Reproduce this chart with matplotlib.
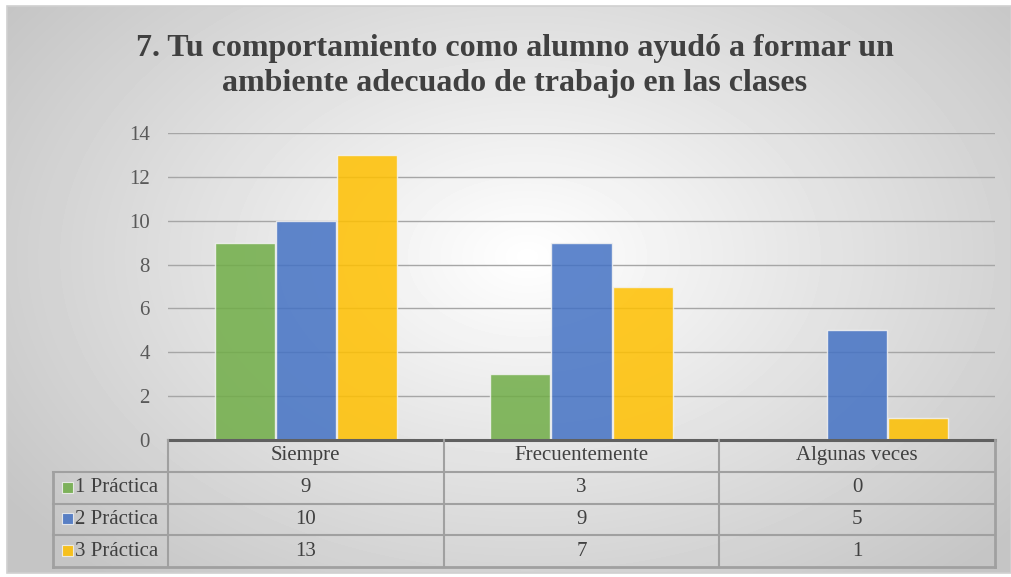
import numpy as np
import matplotlib.pyplot as plt
from matplotlib.patches import Rectangle

# Data
categories = ['Siempre', 'Frecuentemente', 'Algunas veces']
series_names = ['1 Práctica', '2 Práctica', '3 Práctica']
practica_1 = [9, 3, 0]
practica_2 = [10, 9, 5]
practica_3 = [13, 7, 1]
y_ticks = [0, 2, 4, 6, 8, 10, 12, 14]
title = '7. Tu comportamiento como alumno ayudó a formar un\nambiente adecuado de trabajo en las clases'

series = [practica_1, practica_2, practica_3]
colors = ['#70AD47', '#4472C4', '#FFC000']
FONT = ['Liberation Serif', 'DejaVu Serif']

plt.rcParams['font.family'] = FONT

W, H = 1011, 577
fig = plt.figure(figsize=(W / 100, H / 100), dpi=100)


def box(x0, y0, x1, y1):
    # pixel box (top-left origin) -> figure rect
    return [x0 / W, 1 - y1 / H, (x1 - x0) / W, (y1 - y0) / H]


# radial gray background like the Excel chart area
bg = fig.add_axes(box(7, 6, 1011, 573))
yy, xx = np.mgrid[0:567, 0:1004]
r = np.sqrt(((xx - 520) / 640) ** 2 + ((yy - 250) / 430) ** 2)
shade = 1 - 0.23 * np.clip(r, 0, 1)
bg.imshow(shade, cmap='gray', vmin=0, vmax=1, aspect='auto', interpolation='bilinear')
bg.set_axis_off()
fig.patches.append(Rectangle((7 / W, 1 - 573 / H), 1004 / W, 567 / H, transform=fig.transFigure,
                             fill=False, edgecolor='#d0d0d0', lw=1.2))

# Title
fig.text(515 / W, 1 - 66 / H, title, ha='center', va='center', fontsize=23, fontweight='bold',
         color='#404040', linespacing=1.3, family=FONT)

# Main bar axes
ax = fig.add_axes(box(168, 133, 995, 440))
ax.set_facecolor('none')
x = np.arange(len(categories))
width = 0.218
offsets = [-0.222, 0, 0.222]
for vals, off, c in zip(series, offsets, colors):
    ax.bar(x + off, vals, width, color=c, alpha=0.85, edgecolor='#f2f2f2', linewidth=1, zorder=3)

ax.set_xlim(-0.5, 2.5)
ax.set_ylim(0, 14)
ax.set_yticks(y_ticks)
ax.set_yticklabels([str(t) for t in y_ticks], family=FONT)
ax.set_xticks([])
ax.yaxis.grid(True, color='#a6a6a6', linewidth=1, zorder=0)
ax.set_axisbelow(True)
for s in ax.spines.values():
    s.set_visible(False)
ax.tick_params(axis='y', length=0, pad=13, labelsize=15, labelcolor='#595959')
ax.axhline(0, color='#606060', linewidth=2.2, zorder=5, clip_on=False)

# Data table below the plot
tab = fig.add_axes(box(53, 440, 995, 567))
tab.set_facecolor('none')
left = -0.5 - 115 / 275.67
tab.set_xlim(left, 2.5)
tab.set_ylim(4, 0)
tab.set_axis_off()
lc = '#a0a0a0'
for yv in [1, 2, 3]:
    tab.plot([left, 2.5], [yv, yv], color=lc, lw=1.5, clip_on=False)
tab.plot([left, 2.5], [4, 4], color=lc, lw=2, clip_on=False)
for xv in [-0.5, 0.5, 1.5]:
    tab.plot([xv, xv], [0, 4], color=lc, lw=1.5, clip_on=False)
tab.plot([2.5, 2.5], [0, 4], color=lc, lw=2, clip_on=False)
tab.plot([left, left], [1, 4], color=lc, lw=2, clip_on=False)

for i, cat in enumerate(categories):
    tab.text(i, 0.5, cat, ha='center', va='center', fontsize=15, color='#404040', family=FONT)
for row, (name, vals, c) in enumerate(zip(series_names, series, colors)):
    yc = row + 1.5
    tab.add_patch(Rectangle((left + 9 / 275.67, yc - 0.19), 11 / 275.67, 0.35,
                            facecolor=c, alpha=0.85, edgecolor='#f2f2f2', lw=0.8))
    tab.text(left + 22 / 275.67, yc, name, ha='left', va='center', fontsize=15, color='#404040',
             family=FONT)
    for i, v in enumerate(vals):
        tab.text(i, yc, str(v), ha='center', va='center', fontsize=15, color='#404040', family=FONT)

fig.savefig('out.png', dpi=100)
